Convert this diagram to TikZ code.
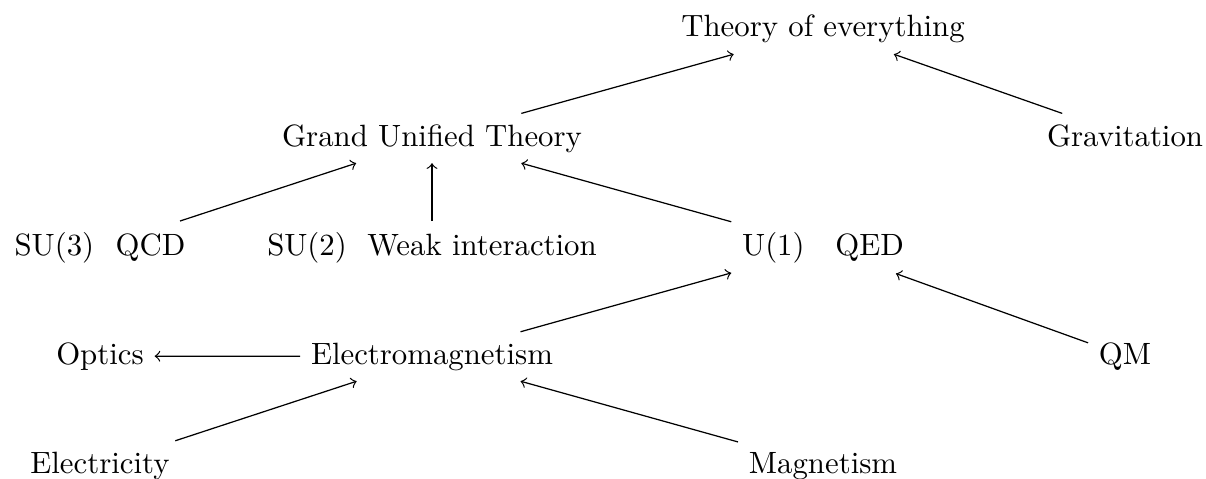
\documentclass[tikz,border=0pt]{standalone}
\begin{document}
\begin{tikzpicture}[x=0.3247pt,y=-0.3247pt,
  lbl/.style={anchor=base},
  conn/.style={->}]
\useasboundingbox (0,0) rectangle (1206,478);
\node[lbl] (toe)  at (823,37)   {Theory of everything};
\node[lbl] (gut)  at (432,146)  {Grand Unified Theory};
\node[lbl] (grav) at (1125,146) {Gravitation};
\node[lbl] (su3)  at (100,255)  {SU(3)\hspace{7pt}QCD};
\node[lbl] (su2)  at (432,255)  {SU(2)~~Weak interaction};
\node[lbl] (u1)   at (823,255)  {U(1)\quad QED};
\node[lbl] (opt)  at (100,364)  {Optics};
\node[lbl] (em)   at (432,364)  {Electromagnetism};
\node[lbl] (qm)   at (1125,364) {QM};
\node[lbl] (elec) at (100,473)  {Electricity};
\node[lbl] (mag)  at (823,473)  {Magnetism};
\draw[conn] (gut) -- (toe);
\draw[conn] (grav) -- (toe);
\draw[conn] (su3) -- (gut);
\draw[conn] (su2) -- (gut);
\draw[conn] (u1) -- (gut);
\draw[conn] (em) -- (u1);
\draw[conn] (qm) -- (u1);
\draw[conn] (em) -- (opt);
\draw[conn] (elec) -- (em);
\draw[conn] (mag) -- (em);
\end{tikzpicture}
\end{document}
